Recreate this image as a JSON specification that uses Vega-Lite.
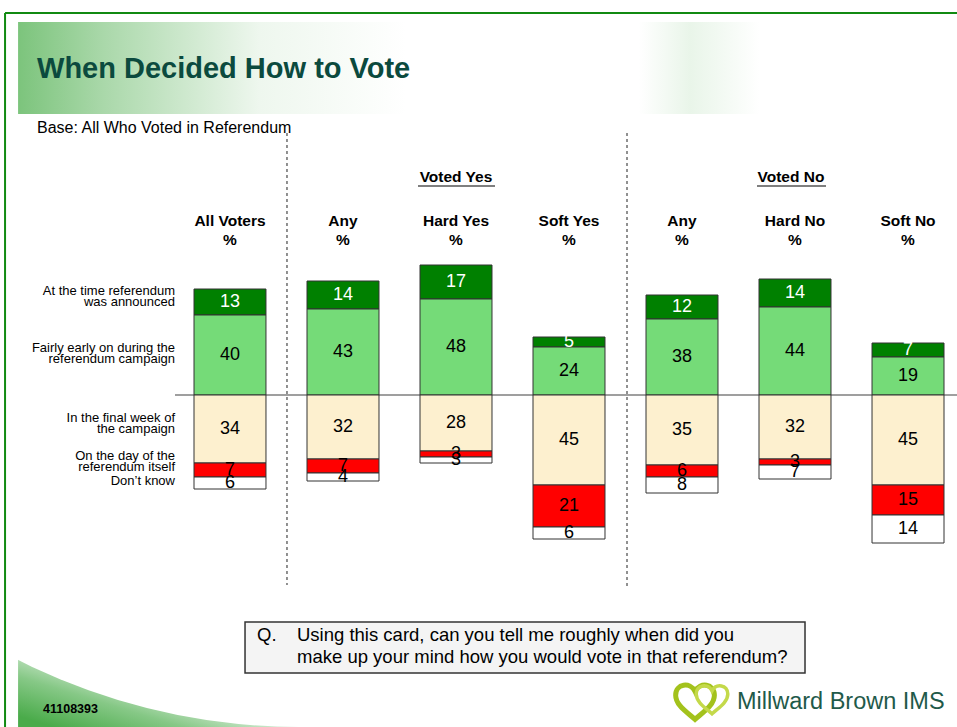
{
  "$schema": "https://vega.github.io/schema/vega-lite/v6.json",
  "width": 957,
  "height": 727,
  "autosize": "none",
  "padding": 0,
  "background": "#ffffff",
  "config": {"view": {"stroke": null}, "font": "Liberation Sans"},
  "datasets": {
    "bars": [
      {"group": "All Voters", "when": "At the time referendum was announced", "pct": 13},
      {"group": "All Voters", "when": "Fairly early on during the referendum campaign", "pct": 40},
      {"group": "All Voters", "when": "In the final week of the campaign", "pct": 34},
      {"group": "All Voters", "when": "On the day of the referendum itself", "pct": 7},
      {"group": "All Voters", "when": "Don’t know", "pct": 6},
      {"group": "Any Yes", "when": "At the time referendum was announced", "pct": 14},
      {"group": "Any Yes", "when": "Fairly early on during the referendum campaign", "pct": 43},
      {"group": "Any Yes", "when": "In the final week of the campaign", "pct": 32},
      {"group": "Any Yes", "when": "On the day of the referendum itself", "pct": 7},
      {"group": "Any Yes", "when": "Don’t know", "pct": 4},
      {"group": "Hard Yes", "when": "At the time referendum was announced", "pct": 17},
      {"group": "Hard Yes", "when": "Fairly early on during the referendum campaign", "pct": 48},
      {"group": "Hard Yes", "when": "In the final week of the campaign", "pct": 28},
      {"group": "Hard Yes", "when": "On the day of the referendum itself", "pct": 3},
      {"group": "Hard Yes", "when": "Don’t know", "pct": 3},
      {"group": "Soft Yes", "when": "At the time referendum was announced", "pct": 5},
      {"group": "Soft Yes", "when": "Fairly early on during the referendum campaign", "pct": 24},
      {"group": "Soft Yes", "when": "In the final week of the campaign", "pct": 45},
      {"group": "Soft Yes", "when": "On the day of the referendum itself", "pct": 21},
      {"group": "Soft Yes", "when": "Don’t know", "pct": 6},
      {"group": "Any No", "when": "At the time referendum was announced", "pct": 12},
      {"group": "Any No", "when": "Fairly early on during the referendum campaign", "pct": 38},
      {"group": "Any No", "when": "In the final week of the campaign", "pct": 35},
      {"group": "Any No", "when": "On the day of the referendum itself", "pct": 6},
      {"group": "Any No", "when": "Don’t know", "pct": 8},
      {"group": "Hard No", "when": "At the time referendum was announced", "pct": 14},
      {"group": "Hard No", "when": "Fairly early on during the referendum campaign", "pct": 44},
      {"group": "Hard No", "when": "In the final week of the campaign", "pct": 32},
      {"group": "Hard No", "when": "On the day of the referendum itself", "pct": 3},
      {"group": "Hard No", "when": "Don’t know", "pct": 7},
      {"group": "Soft No", "when": "At the time referendum was announced", "pct": 7},
      {"group": "Soft No", "when": "Fairly early on during the referendum campaign", "pct": 19},
      {"group": "Soft No", "when": "In the final week of the campaign", "pct": 45},
      {"group": "Soft No", "when": "On the day of the referendum itself", "pct": 15},
      {"group": "Soft No", "when": "Don’t know", "pct": 14}
    ],
    "cols": [
      {"group": "All Voters", "label": "All Voters"},
      {"group": "Any Yes", "label": "Any"},
      {"group": "Hard Yes", "label": "Hard Yes"},
      {"group": "Soft Yes", "label": "Soft Yes"},
      {"group": "Any No", "label": "Any"},
      {"group": "Hard No", "label": "Hard No"},
      {"group": "Soft No", "label": "Soft No"}
    ],
    "one": [{}]
  },
  "layer": [
    {
      "data": {"name": "one"},
      "mark": {"type": "rect", "fill": {"gradient": "linear", "x1": 0, "y1": 0.85, "x2": 0.9, "y2": 0.1, "stops": [
        {"offset": 0, "color": "#4aab4a"},
        {"offset": 0.3, "color": "#86c886"},
        {"offset": 0.6, "color": "#e4f2e4"},
        {"offset": 0.8, "color": "#ffffff"}]}},
      "encoding": {
        "x": {"datum": "All Voters", "bandPosition": -2.444},
        "x2": {"datum": "Any Yes", "bandPosition": -0.097},
        "y": {"datum": -130},
        "y2": {"datum": -166}
      }
    },
    {
      "data": {"name": "one"},
      "mark": {"type": "point", "shape": "circle", "filled": true, "color": "#ffffff", "opacity": 1, "size": 1572516, "strokeWidth": 0},
      "encoding": {
        "x": {"datum": "All Voters", "bandPosition": 1.472},
        "y": {"datum": 147.5}
      }
    },
    {
      "data": {"name": "one"},
      "mark": {"type": "rect", "fill": {"gradient": "linear", "x1": 0, "y1": 0.5, "x2": 1, "y2": 0.5, "stops": [
        {"offset": 0, "color": "#7cc47c"},
        {"offset": 0.1, "color": "#aad8aa"},
        {"offset": 0.28, "color": "#eef7ee"},
        {"offset": 0.45, "color": "#ffffff"},
        {"offset": 0.72, "color": "#ffffff"},
        {"offset": 0.78, "color": "#e9f5e9"},
        {"offset": 0.86, "color": "#ffffff"},
        {"offset": 1, "color": "#ffffff"}]}},
      "encoding": {
        "x": {"datum": "All Voters", "bandPosition": -2.444},
        "x2": {"datum": "Soft No", "bandPosition": 0.111},
        "y": {"datum": 186.5},
        "y2": {"datum": 140.5}
      }
    },
    {
      "data": {"name": "one"},
      "mark": {"type": "rule", "color": "#118a11", "strokeWidth": 2},
      "encoding": {
        "x": {"datum": "All Voters", "bandPosition": -2.625},
        "x2": {"datum": "Soft No", "bandPosition": 1.2},
        "y": {"datum": 191}
      }
    },
    {
      "data": {"name": "one"},
      "mark": {"type": "rule", "color": "#118a11", "strokeWidth": 2},
      "encoding": {
        "x": {"datum": "All Voters", "bandPosition": -2.625},
        "y": {"datum": 191},
        "y2": {"datum": -166}
      }
    },
    {
      "data": {"name": "one"},
      "mark": {"type": "rule", "color": "#222222", "strokeWidth": 1, "strokeDash": [3, 3]},
      "encoding": {
        "x": {"datum": "Any Yes", "bandPosition": -0.278},
        "y": {"datum": 131},
        "y2": {"datum": -95}
      }
    },
    {
      "data": {"name": "one"},
      "mark": {"type": "rule", "color": "#222222", "strokeWidth": 1, "strokeDash": [3, 3]},
      "encoding": {
        "x": {"datum": "Any No", "bandPosition": -0.264},
        "y": {"datum": 131},
        "y2": {"datum": -96.5}
      }
    },
    {
      "data": {"name": "one"},
      "mark": {"type": "rule", "color": "#7f7f7f", "strokeWidth": 1.5},
      "encoding": {
        "x": {"datum": "All Voters", "bandPosition": -0.264},
        "x2": {"datum": "Soft No", "bandPosition": 1.2},
        "y": {"datum": 0}
      }
    },
    {
      "data": {"name": "bars"},
      "transform": [
        {"calculate": "indexof(['Fairly early on during the referendum campaign','At the time referendum was announced','In the final week of the campaign','On the day of the referendum itself','Don’t know'], datum.when)", "as": "rank"},
        {"calculate": "datum.rank >= 2 ? -datum.pct : datum.pct", "as": "sv"},
        {"stack": "sv", "groupby": ["group"], "sort": [{"field": "rank", "order": "ascending"}], "as": ["y0", "y1"], "offset": "zero"},
        {"calculate": "(datum.y0 + datum.y1) / 2", "as": "mid"}
      ],
      "layer": [
        {
          "mark": {"type": "bar", "stroke": "#333333", "strokeWidth": 1},
          "encoding": {
            "x": {"field": "group", "type": "nominal", "axis": null,
              "scale": {"domain": ["All Voters", "Any Yes", "Hard Yes", "Soft Yes", "Any No", "Hard No", "Soft No"], "range": [194, 944], "paddingInner": 0.363, "paddingOuter": 0}},
            "y": {"field": "y0", "type": "quantitative", "axis": null, "scale": {"domain": [-166, 197.5], "nice": false, "zero": false}},
            "y2": {"field": "y1"},
            "color": {"field": "when", "type": "nominal", "legend": null,
              "scale": {"domain": ["At the time referendum was announced", "Fairly early on during the referendum campaign", "In the final week of the campaign", "On the day of the referendum itself", "Don’t know"],
                "range": ["#008000", "#75db78", "#fdf0cf", "#ff0000", "#ffffff"]}}
          }
        },
        {
          "mark": {"type": "text", "fontSize": 18, "baseline": "middle", "align": "center"},
          "encoding": {
            "x": {"field": "group", "type": "nominal"},
            "y": {"field": "mid", "type": "quantitative"},
            "text": {"field": "pct", "type": "quantitative"},
            "color": {"condition": {"test": "datum.rank == 1", "value": "#ffffff"}, "value": "#000000"}
          }
        }
      ]
    },
    {
      "data": {"name": "cols"},
      "mark": {"type": "text", "fontSize": 15.5, "fontWeight": "bold", "baseline": "alphabetic", "align": "center", "color": "#000000"},
      "encoding": {
        "x": {"field": "group", "type": "nominal"},
        "y": {"datum": 84.5},
        "text": {"field": "label"}
      }
    },
    {
      "data": {"name": "cols"},
      "mark": {"type": "text", "fontSize": 15.5, "fontWeight": "bold", "baseline": "alphabetic", "align": "center", "color": "#000000"},
      "encoding": {
        "x": {"field": "group", "type": "nominal"},
        "y": {"datum": 75},
        "text": {"value": "%"}
      }
    },
    {
      "data": {"name": "one"},
      "mark": {"type": "text", "fontSize": 15.5, "fontWeight": "bold", "baseline": "alphabetic", "align": "center", "color": "#000000"},
      "encoding": {
        "x": {"datum": "Hard Yes", "bandPosition": 0.5},
        "y": {"datum": 106.5},
        "text": {"value": "Voted Yes"}
      }
    },
    {
      "data": {"name": "one"},
      "mark": {"type": "rule", "color": "#000000", "strokeWidth": 1.2},
      "encoding": {
        "x": {"datum": "Hard Yes", "bandPosition": -0.028},
        "x2": {"datum": "Hard Yes", "bandPosition": 1.042},
        "y": {"datum": 104.5}
      }
    },
    {
      "data": {"name": "one"},
      "mark": {"type": "text", "fontSize": 15.5, "fontWeight": "bold", "baseline": "alphabetic", "align": "center", "color": "#000000"},
      "encoding": {
        "x": {"datum": "Hard No", "bandPosition": 0.444},
        "y": {"datum": 106.5},
        "text": {"value": "Voted No"}
      }
    },
    {
      "data": {"name": "one"},
      "mark": {"type": "rule", "color": "#000000", "strokeWidth": 1.2},
      "encoding": {
        "x": {"datum": "Hard No", "bandPosition": -0.028},
        "x2": {"datum": "Hard No", "bandPosition": 0.931},
        "y": {"datum": 104.5}
      }
    },
    {
      "data": {"name": "one"},
      "mark": {"type": "text", "fontSize": 13, "lineHeight": 11, "baseline": "middle", "align": "right", "color": "#000000"},
      "encoding": {
        "x": {"datum": "All Voters", "bandPosition": -0.264},
        "y": {"datum": 52},
        "text": {"value": ["At the time referendum", "was announced"]}
      }
    },
    {
      "data": {"name": "one"},
      "mark": {"type": "text", "fontSize": 13, "lineHeight": 11, "baseline": "middle", "align": "right", "color": "#000000"},
      "encoding": {
        "x": {"datum": "All Voters", "bandPosition": -0.264},
        "y": {"datum": 23.5},
        "text": {"value": ["Fairly early on during the", "referendum campaign"]}
      }
    },
    {
      "data": {"name": "one"},
      "mark": {"type": "text", "fontSize": 13, "lineHeight": 11, "baseline": "middle", "align": "right", "color": "#000000"},
      "encoding": {
        "x": {"datum": "All Voters", "bandPosition": -0.264},
        "y": {"datum": -11.5},
        "text": {"value": ["In the final week of", "the campaign"]}
      }
    },
    {
      "data": {"name": "one"},
      "mark": {"type": "text", "fontSize": 13, "lineHeight": 11, "baseline": "middle", "align": "right", "color": "#000000"},
      "encoding": {
        "x": {"datum": "All Voters", "bandPosition": -0.264},
        "y": {"datum": -30.5},
        "text": {"value": ["On the day of the", "referendum itself"]}
      }
    },
    {
      "data": {"name": "one"},
      "mark": {"type": "text", "fontSize": 13, "baseline": "middle", "align": "right", "color": "#000000"},
      "encoding": {
        "x": {"datum": "All Voters", "bandPosition": -0.264},
        "y": {"datum": -43},
        "text": {"value": "Don’t know"}
      }
    },
    {
      "data": {"name": "one"},
      "mark": {"type": "text", "fontSize": 29, "fontWeight": "bold", "baseline": "alphabetic", "align": "left", "color": "#0b4a3e"},
      "encoding": {
        "x": {"datum": "All Voters", "bandPosition": -2.181},
        "y": {"datum": 158.75},
        "text": {"value": "When Decided How to Vote"}
      }
    },
    {
      "data": {"name": "one"},
      "mark": {"type": "text", "fontSize": 16, "baseline": "alphabetic", "align": "left", "color": "#000000"},
      "encoding": {
        "x": {"datum": "All Voters", "bandPosition": -2.181},
        "y": {"datum": 131},
        "text": {"value": "Base: All Who Voted in Referendum"}
      }
    },
    {
      "data": {"name": "one"},
      "mark": {"type": "rect", "fill": "#f4f4f4", "stroke": "#333333", "strokeWidth": 1.5},
      "encoding": {
        "x": {"datum": "Any Yes", "bandPosition": -0.861},
        "x2": {"datum": "Hard No", "bandPosition": 0.639},
        "y": {"datum": -113.5},
        "y2": {"datum": -139}
      }
    },
    {
      "data": {"name": "one"},
      "mark": {"type": "text", "fontSize": 18.5, "baseline": "alphabetic", "align": "left", "color": "#000000"},
      "encoding": {
        "x": {"datum": "Any Yes", "bandPosition": -0.694},
        "y": {"datum": -123},
        "text": {"value": "Q."}
      }
    },
    {
      "data": {"name": "one"},
      "mark": {"type": "text", "fontSize": 18.5, "lineHeight": 22, "baseline": "alphabetic", "align": "left", "color": "#000000"},
      "encoding": {
        "x": {"datum": "Any Yes", "bandPosition": -0.139},
        "y": {"datum": -123},
        "text": {"value": ["Using this card, can you tell me roughly when did you", "make up your mind how you would vote in that referendum?"]}
      }
    },
    {
      "data": {"name": "one"},
      "mark": {"type": "text", "fontSize": 12.5, "fontWeight": "bold", "baseline": "alphabetic", "align": "left", "color": "#000000"},
      "encoding": {
        "x": {"datum": "All Voters", "bandPosition": -2.097},
        "y": {"datum": -159},
        "text": {"value": "41108393"}
      }
    },
    {
      "data": {"name": "one"},
      "mark": {"type": "text", "fontSize": 23.5, "baseline": "alphabetic", "align": "left", "color": "#1f5a4a"},
      "encoding": {
        "x": {"datum": "Hard No", "bandPosition": -0.306},
        "y": {"datum": -157},
        "text": {"value": "Millward Brown IMS"}
      }
    },
    {
      "data": {"name": "one"},
      "mark": {"type": "point", "shape": "M0,-0.45 C-0.25,-0.95 -1,-0.85 -1,-0.25 C-1,0.25 -0.45,0.6 0,1 C0.45,0.6 1,0.25 1,-0.25 C1,-0.85 0.25,-0.95 0,-0.45 Z", "size": 1500, "filled": false, "stroke": "#a3c21c", "strokeWidth": 5, "opacity": 1},
      "encoding": {
        "x": {"datum": "Hard No", "bandPosition": -0.889},
        "y": {"datum": -152.5}
      }
    },
    {
      "data": {"name": "one"},
      "mark": {"type": "point", "shape": "M0,-0.45 C-0.25,-0.95 -1,-0.85 -1,-0.25 C-1,0.25 -0.45,0.6 0,1 C0.45,0.6 1,0.25 1,-0.25 C1,-0.85 0.25,-0.95 0,-0.45 Z", "size": 1000, "filled": false, "stroke": "#c4d94a", "strokeWidth": 3.5, "opacity": 1},
      "encoding": {
        "x": {"datum": "Hard No", "bandPosition": -0.653},
        "y": {"datum": -151.5}
      }
    }
  ]
}
